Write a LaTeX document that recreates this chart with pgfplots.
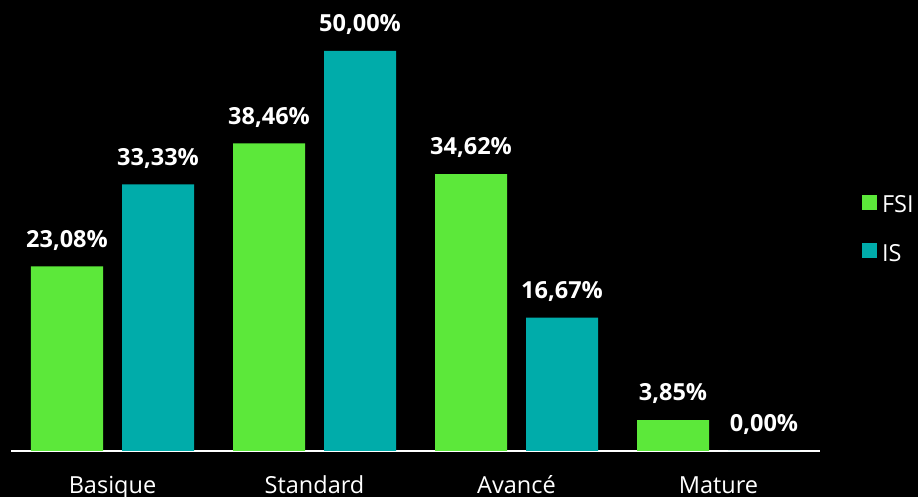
\documentclass[border=0pt]{standalone}
\usepackage{fontspec}
\setmainfont{Open Sans}
\usepackage{pgfplots}
\pgfplotsset{compat=1.18}
\definecolor{fsi}{RGB}{92,232,58}
\definecolor{isc}{RGB}{0,172,170}
\begin{document}
\begin{tikzpicture}
\fill[black] (0pt,0pt) rectangle (918pt,497pt);
\path[use as bounding box] (0pt,0pt) rectangle (918pt,497pt);
\begin{axis}[
  at={(11.5pt,46pt)}, anchor=south west,
  scale only axis, width=808pt, height=400pt,
  xmin=-0.5, xmax=3.5, ymin=0, ymax=50,
  clip=false,
  axis x line*=bottom, axis y line=none,
  x axis line style={white, line width=2pt},
  xtick={0,1,2,3}, xticklabels={Basique,Standard,Avancé,Mature},
  major tick length=0pt, ytick=\empty,
  xticklabel style={text=white, font=\fontsize{23.5}{28}\selectfont, anchor=base, yshift=-43pt, inner sep=0pt},
  ybar=19pt, bar width=72pt,
  nodes near coords={\pgfmathprintnumber[fixed,fixed zerofill,precision=2,use comma,assume math mode=true]{\pgfplotspointmeta}\%},
  nodes near coords style={text=white, font=\bfseries\fontsize{23.5}{28}\selectfont, anchor=south, text depth=0pt, inner sep=0pt, yshift=19pt},
  legend style={at={(1.0526,0.64)}, anchor=north west, draw=none, fill=none, text=white,
    font=\fontsize{23.5}{28}\selectfont, inner sep=0pt, outer sep=0pt, row sep=29pt,
    nodes={inner sep=0pt}, /tikz/every odd column/.style={column sep=5pt}},
  legend cell align=left,
  legend image code/.code={\fill[#1] (0pt,-5pt) rectangle (15pt,10pt);},
]
\addplot[fill=fsi, draw=none] coordinates {(0,23.08) (1,38.46) (2,34.62) (3,3.85)};
\addplot[fill=isc, draw=none] coordinates {(0,33.33) (1,50.00) (2,16.67) (3,0)};
\legend{FSI,IS}
\end{axis}
\end{tikzpicture}
\end{document}
